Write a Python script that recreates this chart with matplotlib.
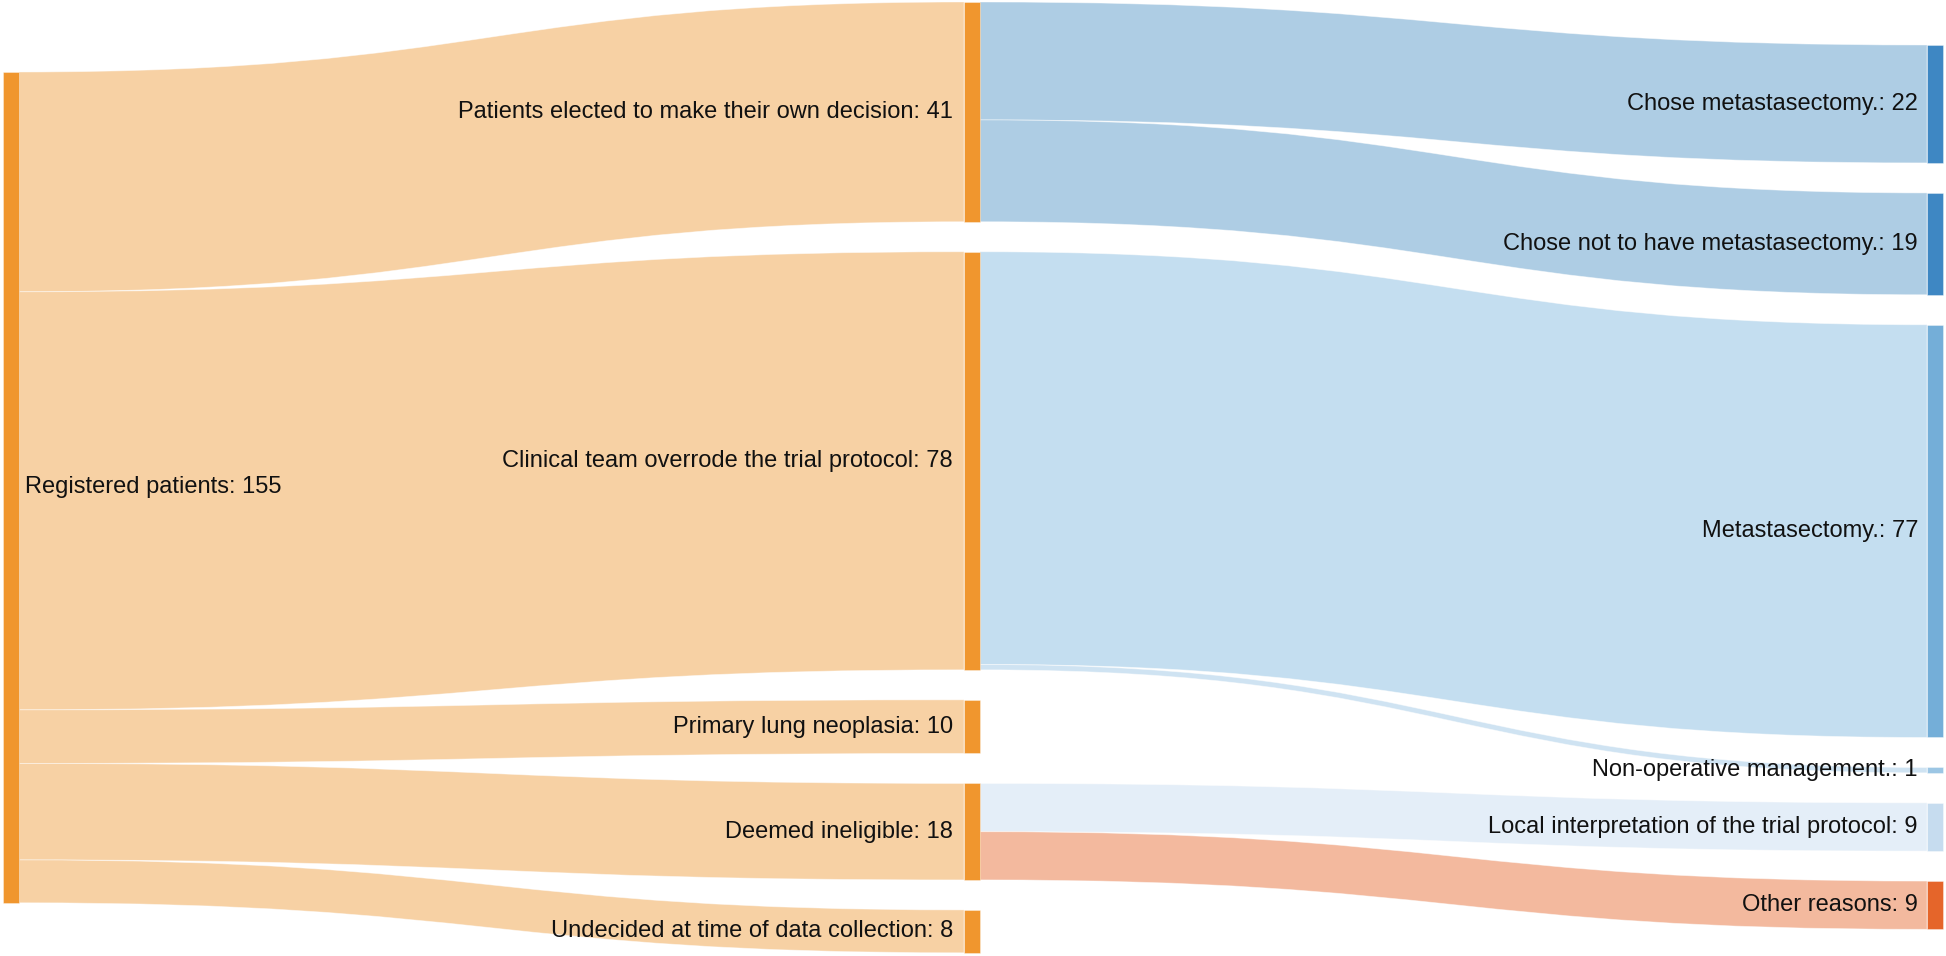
import matplotlib.pyplot as plt
from matplotlib.patches import Rectangle, PathPatch
from matplotlib.path import Path

plt.rcParams['font.family'] = ['Liberation Sans', 'DejaVu Sans']

# column 0
left_labels = ['Registered patients']
left_values = [155]
# column 1
mid_labels = ['Patients elected to make their own decision',
              'Clinical team overrode the trial protocol',
              'Primary lung neoplasia',
              'Deemed ineligible',
              'Undecided at time of data collection']
mid_values = [41, 78, 10, 18, 8]
# column 2
right_labels = ['Chose metastasectomy.',
                'Chose not to have metastasectomy.',
                'Metastasectomy.',
                'Non-operative management.',
                'Local interpretation of the trial protocol',
                'Other reasons']
right_values = [22, 19, 77, 1, 9, 9]

# links column 0 -> column 1 (all from node 0)
left_mid_values = [41, 78, 10, 18, 8]
# links column 1 -> column 2
mid_right_source = [0, 0, 1, 1, 3, 3]
mid_right_values = [22, 19, 77, 1, 9, 9]

# colours
left_node_colors = ['#F0962E']
mid_node_colors = ['#F0962E'] * 5
right_node_colors = ['#3E87C3', '#3E87C3', '#74AED8', '#9CC6E4', '#C6DCEF', '#E5652A']
left_mid_colors = ['#F7D1A4'] * 5
mid_right_colors = ['#AECDE4', '#AECDE4', '#C4DEF0', '#CFE3F2', '#E4EEF8', '#F3B99E']

# layout (pixels)
W, H = 1946, 956
scale = 5.36
pad = 30
node_w = 16
col_x = [3, 964, 1927]
col_top = [72, 2, 45]


def stack(values, top):
    ys = []
    y = top
    for v in values:
        ys.append((y, y + v * scale))
        y += v * scale + pad
    return ys


left_pos = stack(left_values, col_top[0])
mid_pos = stack(mid_values, col_top[1])
right_pos = stack(right_values, col_top[2])

fig = plt.figure(figsize=(W / 100, H / 100), dpi=100)
ax = fig.add_axes([0, 0, 1, 1])
ax.set_xlim(0, W)
ax.set_ylim(H, 0)
ax.axis('off')


def link(x0, s0, s1, x1, t0, t1, color):
    xm = (x0 + x1) / 2
    verts = [(x0, s0), (xm, s0), (xm, t0), (x1, t0),
             (x1, t1), (xm, t1), (xm, s1), (x0, s1), (x0, s0)]
    codes = [Path.MOVETO, Path.CURVE4, Path.CURVE4, Path.CURVE4,
             Path.LINETO, Path.CURVE4, Path.CURVE4, Path.CURVE4, Path.CLOSEPOLY]
    ax.add_patch(PathPatch(Path(verts, codes), facecolor=color,
                           edgecolor=(1, 1, 1, 0.5), lw=0.6, zorder=1))


# links left -> mid
y = left_pos[0][0]
for i, v in enumerate(left_mid_values):
    h = v * scale
    t0, t1 = mid_pos[i]
    link(col_x[0] + node_w, y, y + h, col_x[1], t0, t0 + h, left_mid_colors[i])
    y += h

# links mid -> right
offsets = {}
for j, (s, v) in enumerate(zip(mid_right_source, mid_right_values)):
    h = v * scale
    y = mid_pos[s][0] + offsets.get(s, 0)
    offsets[s] = offsets.get(s, 0) + h
    t0, t1 = right_pos[j]
    link(col_x[1] + node_w, y, y + h, col_x[2], t0, t0 + h, mid_right_colors[j])


def nodes(x, pos, colors):
    for (a, b), c in zip(pos, colors):
        ax.add_patch(Rectangle((x, a), node_w, b - a, facecolor=c,
                               edgecolor=(1, 1, 1, 0.5), lw=0.5, zorder=2))


nodes(col_x[0], left_pos, left_node_colors)
nodes(col_x[1], mid_pos, mid_node_colors)
nodes(col_x[2], right_pos, right_node_colors)

fs = 17
tc = '#111111'
for (a, b), lab, v in zip(left_pos, left_labels, left_values):
    ax.text(col_x[0] + node_w + 6, (a + b) / 2, f'{lab}: {v}', ha='left', va='center',
            fontsize=fs, color=tc, zorder=3)
for (a, b), lab, v in zip(mid_pos, mid_labels, mid_values):
    ax.text(col_x[1] - 11, (a + b) / 2, f'{lab}: {v}', ha='right', va='center',
            fontsize=fs, color=tc, zorder=3)
for (a, b), lab, v in zip(right_pos, right_labels, right_values):
    ax.text(col_x[2] - 9, (a + b) / 2, f'{lab}: {v}', ha='right', va='center',
            fontsize=fs, color=tc, zorder=3)

fig.savefig('out.png', dpi=100)
